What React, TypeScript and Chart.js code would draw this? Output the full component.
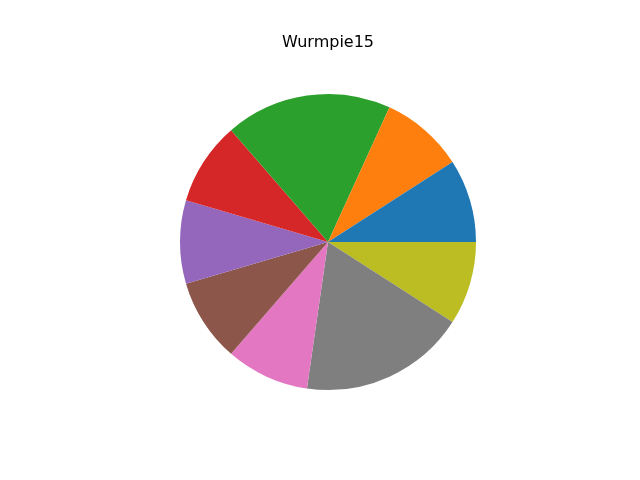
import React, { useEffect, useRef } from "react";
import { Chart, registerables } from "chart.js";

Chart.register(...registerables);

// Slices in matplotlib order (counter-clockwise from 3 o'clock)
const labels = ["A", "B", "C", "D", "E", "F", "G", "H", "I"];
const values = [1, 1, 2, 1, 1, 1, 1, 2, 1];
const colors = [
  "#1f77b4",
  "#ff7f0e",
  "#2ca02c",
  "#d62728",
  "#9467bd",
  "#8c564b",
  "#e377c2",
  "#7f7f7f",
  "#bcbd22",
];
const titleText = "Wurmpie15";

export default function App() {
  const ref = useRef<HTMLCanvasElement>(null);
  useEffect(() => {
    document.body.style.margin = "0";
    // Chart.js draws clockwise; reverse to mimic matplotlib's counter-clockwise order
    const rLabels = [...labels].reverse();
    const rValues = [...values].reverse();
    const rColors = [...colors].reverse();
    const chart = new Chart(ref.current!, {
      type: "pie",
      data: {
        labels: rLabels,
        datasets: [
          {
            data: rValues,
            backgroundColor: rColors,
            borderWidth: 0,
          },
        ],
      },
      options: {
        animation: false,
        responsive: false,
        rotation: 90,
        layout: { padding: { left: 180, right: 164, top: 0, bottom: 90 } },
        plugins: {
          legend: { display: false },
          tooltip: { enabled: false },
          title: {
            display: true,
            text: titleText,
            color: "#000000",
            font: { family: "DejaVu Sans", size: 16, weight: "normal" },
            padding: { top: 33.4, bottom: 41.4 },
          },
        },
      },
    });
    return () => chart.destroy();
  }, []);
  return (
    <div style={{ width: 640, height: 480 }}>
      <canvas ref={ref} width={640} height={480} />
    </div>
  );
}
